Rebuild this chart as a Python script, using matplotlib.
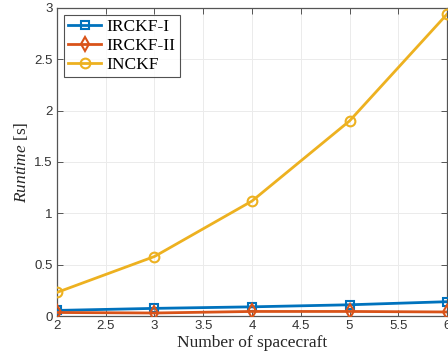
import matplotlib
matplotlib.use("Agg")
import matplotlib.pyplot as plt

plt.rcParams["mathtext.fontset"] = "custom"
plt.rcParams["mathtext.it"] = "Liberation Serif:italic"
plt.rcParams["mathtext.rm"] = "Liberation Serif"

n_spacecraft = [2, 3, 4, 5, 6]
irckf_1 = [0.055, 0.075, 0.09, 0.11, 0.14]
irckf_2 = [0.035, 0.03, 0.045, 0.045, 0.04]
inckf = [0.23, 0.58, 1.12, 1.90, 2.94]

x_ticks = [2, 2.5, 3, 3.5, 4, 4.5, 5, 5.5, 6]
y_ticks = [0, 0.5, 1, 1.5, 2, 2.5, 3]

fig = plt.figure(figsize=(4.48, 3.6), dpi=100)
ax = fig.add_axes([0.127, 0.122, 0.871, 0.856])

serif = ["Liberation Serif", "DejaVu Serif"]
sans = ["Liberation Sans", "DejaVu Sans"]

ax.plot(n_spacecraft, irckf_1, color="#0072BD", lw=2, marker="s", ms=6,
        mfc="none", mew=1.5, label="IRCKF-I", zorder=3)
ax.plot(n_spacecraft, irckf_2, color="#D95319", lw=2, marker="d", ms=7,
        mfc="none", mew=1.5, label="IRCKF-II", zorder=4)
ax.plot(n_spacecraft, inckf, color="#EDB120", lw=2, marker="o", ms=7,
        mfc="none", mew=1.5, label="INCKF", zorder=3)

ax.set_xlim(2, 6)
ax.set_ylim(0, 3)
ax.set_xticks(x_ticks)
ax.set_xticklabels([f"{t:g}" for t in x_ticks], family=sans, fontsize=9.5)
ax.set_yticks(y_ticks)
ax.set_yticklabels([f"{t:g}" for t in y_ticks], family=sans, fontsize=9.5)
ax.tick_params(direction="in", top=True, right=True, length=4,
               color="#555555", labelcolor="#333333", width=0.7, pad=3)
ax.grid(True, color="#EBEBEB", lw=0.7)
ax.set_axisbelow(True)
for s in ax.spines.values():
    s.set_color("#555555")
    s.set_linewidth(0.9)

ax.set_xlabel("Number of spacecraft", family=serif, fontsize=12.5,
              color="#262626", labelpad=2)
ax.set_ylabel(r"$\mathit{Runtime}$ [s]", family=serif, fontsize=12.5,
              color="#262626", labelpad=3)

leg = ax.legend(loc="upper left", prop={"family": serif, "size": 12.5},
                frameon=True, fancybox=False, edgecolor="#262626",
                handlelength=1.9, handletextpad=0.3, labelspacing=0.15,
                borderpad=0.25, borderaxespad=0.4)
leg.get_frame().set_linewidth(0.8)

fig.savefig("out.png", dpi=100)
